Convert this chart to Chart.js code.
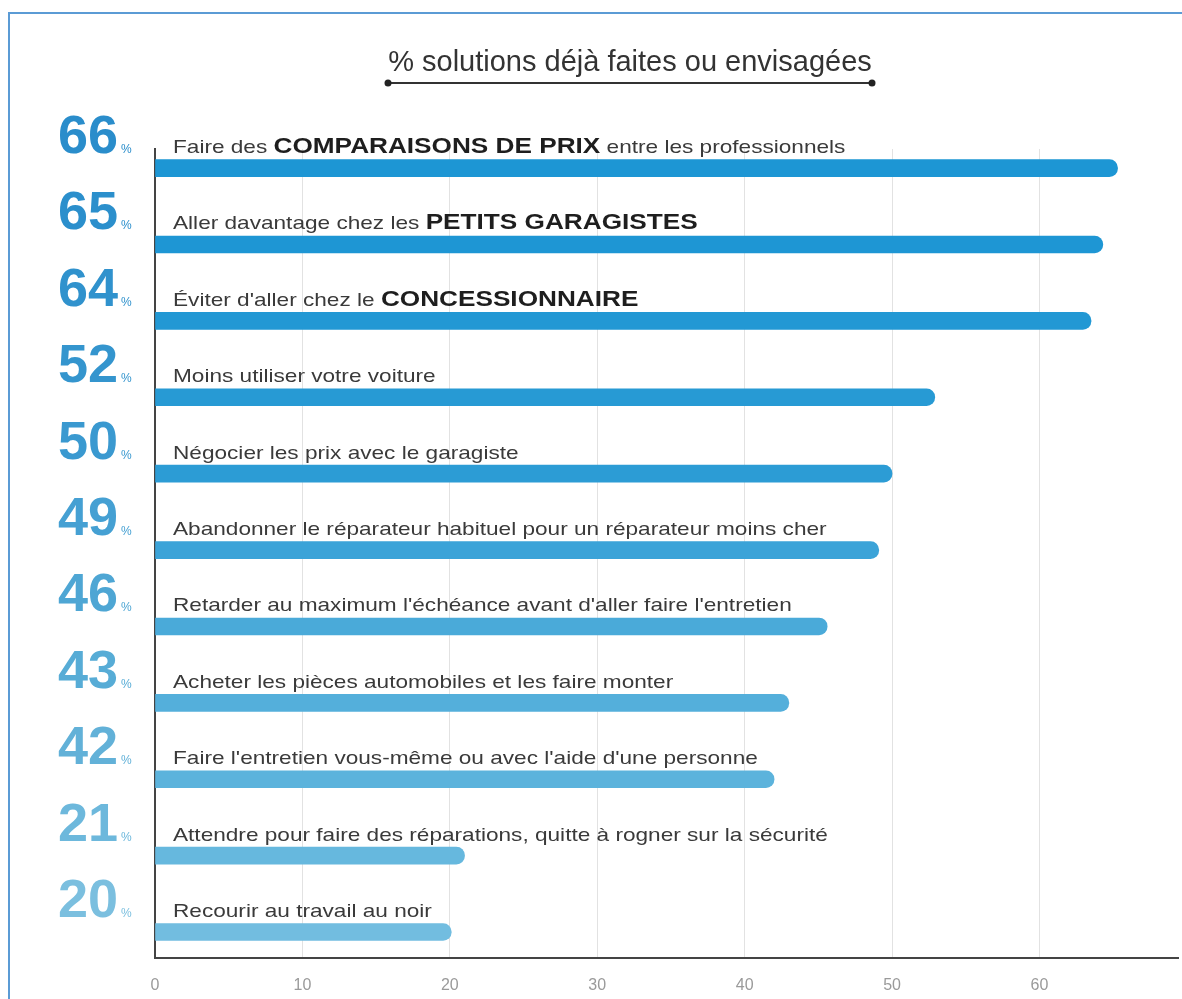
<!DOCTYPE html>
<html lang="fr">

<head>
  <meta charset="UTF-8" />
  <title>Solutions déjà faites ou envisagées</title>
  <style>
    * {
      margin: 0;
      padding: 0;
    }

    body {
      background: #ffffff;
    }

    .chartBox {
      width: 1182px;
      height: 999px;
      position: relative;
    }
  </style>
</head>

<body>
  <div class="chartBox">
    <canvas id="myChart"></canvas>
  </div>
  <script src="https://cdn.jsdelivr.net/npm/chart.js@4.4.1/dist/chart.umd.min.js"></script>
  <script>
    const title = "% solutions déjà faites ou envisagées";

    // ** marks the words printed in bold
    const categories = [
      "Faire des **COMPARAISONS DE PRIX** entre les professionnels",
      "Aller davantage chez les **PETITS GARAGISTES**",
      "Éviter d'aller chez le **CONCESSIONNAIRE**",
      "Moins utiliser votre voiture",
      "Négocier les prix avec le garagiste",
      "Abandonner le réparateur habituel pour un réparateur moins cher",
      "Retarder au maximum l'échéance avant d'aller faire l'entretien",
      "Acheter les pièces automobiles et les faire monter",
      "Faire l'entretien vous-même ou avec l'aide d'une personne",
      "Attendre pour faire des réparations, quitte à rogner sur la sécurité",
      "Recourir au travail au noir",
    ];

    // printed percentages on the left
    const shares = [66, 65, 64, 52, 50, 49, 46, 43, 42, 21, 20];

    // bar lengths as drawn
    const barValues = [65.3, 64.3, 63.5, 52.9, 50, 49.1, 45.6, 43, 42, 21, 20.1];

    const xTicks = [0, 10, 20, 30, 40, 50, 60];

    const barColors = [
      "#1d96d4", "#1e96d4", "#2298d4", "#279ad4", "#2c9cd5", "#3ba3d8",
      "#4aaad9", "#54afdb", "#5cb3dc", "#66b8de", "#72bde0",
    ];
    const numColors = [
      "#2a8dcb", "#2b8fcc", "#3092cd", "#3495ce", "#3a99d0", "#45a0d3",
      "#4ea6d4", "#57acd6", "#62b1d8", "#6db8dc", "#7bbfdf",
    ];

    const FONT = '"Liberation Sans", Arial, Helvetica, sans-serif';

    function drawRich(ctx, str, x, y) {
      const parts = str.split("**");
      ctx.save();
      ctx.translate(x, y);
      ctx.scale(1.19, 1);
      ctx.textAlign = "left";
      ctx.textBaseline = "alphabetic";
      let cx = 0;
      parts.forEach((p, k) => {
        const bold = k % 2 === 1;
        ctx.font = bold ? "bold 22px " + FONT : "19px " + FONT;
        ctx.fillStyle = bold ? "#1e1e1e" : "#3a3a3a";
        ctx.fillText(p, cx, 0);
        cx += ctx.measureText(p).width;
      });
      ctx.restore();
    }

    const deco = {
      id: "deco",
      beforeDraw(chart) {
        const ctx = chart.ctx;
        ctx.save();
        ctx.strokeStyle = "#5b9bd5";
        ctx.lineWidth = 2;
        ctx.beginPath();
        ctx.moveTo(9, chart.height);
        ctx.lineTo(9, 13);
        ctx.lineTo(chart.width, 13);
        ctx.stroke();
        ctx.restore();
      },
      afterDraw(chart) {
        const ctx = chart.ctx;
        const y = chart.scales.y;
        ctx.save();

        // title with its underline
        ctx.font = "29px " + FONT;
        ctx.fillStyle = "#333333";
        ctx.textAlign = "center";
        ctx.textBaseline = "alphabetic";
        ctx.fillText(title, 630, 71);
        ctx.strokeStyle = "#333333";
        ctx.lineWidth = 2;
        ctx.beginPath();
        ctx.moveTo(388, 83);
        ctx.lineTo(872, 83);
        ctx.stroke();
        ctx.fillStyle = "#222222";
        [388, 872].forEach((px) => {
          ctx.beginPath();
          ctx.arc(px, 83, 3.5, 0, Math.PI * 2);
          ctx.fill();
        });

        categories.forEach((cat, i) => {
          const base = y.getPixelForValue(i) - 15;
          ctx.textAlign = "right";
          ctx.fillStyle = numColors[i];
          ctx.font = "bold 54px " + FONT;
          ctx.fillText(String(shares[i]), 118, base);
          ctx.textAlign = "left";
          ctx.font = "12px " + FONT;
          ctx.fillText("%", 121, base);
          drawRich(ctx, cat, 173, base);
        });
        ctx.restore();
      },
    };

    const data = {
      datasets: [
        {
          label: "% solutions",
          data: barValues.map((v, i) => ({ x: v, y: i })),
          backgroundColor: barColors,
          borderWidth: 0,
          borderRadius: 9,
          borderSkipped: "start",
          barThickness: 17,
        },
      ],
    };

    const options = {
      responsive: true,
      maintainAspectRatio: false,
      animation: false,
      indexAxis: "y",
      layout: {
        padding: { left: 155, top: 149, right: 4, bottom: 4 },
      },
      scales: {
        x: {
          type: "linear",
          min: 0,
          max: 69.4,
          afterBuildTicks: (scale) => {
            scale.ticks = xTicks.map((v) => ({ value: v }));
          },
          afterFit: (scale) => {
            scale.height = 37;
          },
          grid: {
            color: "#e2e2e2",
            lineWidth: 1,
            drawTicks: false,
          },
          border: { color: "#444444", width: 2 },
          ticks: {
            color: "#9a9a9a",
            padding: 18,
            font: { family: FONT, size: 16 },
          },
        },
        y: {
          type: "linear",
          reverse: true,
          offset: false,
          min: -0.25,
          max: 10.34,
          grid: { display: false, drawTicks: false, offset: false },
          border: { color: "#444444", width: 2 },
          ticks: { display: false },
        },
      },
      plugins: {
        legend: { display: false },
        tooltip: { enabled: false },
      },
    };

    const ctx = document.getElementById("myChart").getContext("2d");
    const myChart = new Chart(ctx, {
      type: "bar",
      data: data,
      options: options,
      plugins: [deco],
    });
  </script>
</body>

</html>
